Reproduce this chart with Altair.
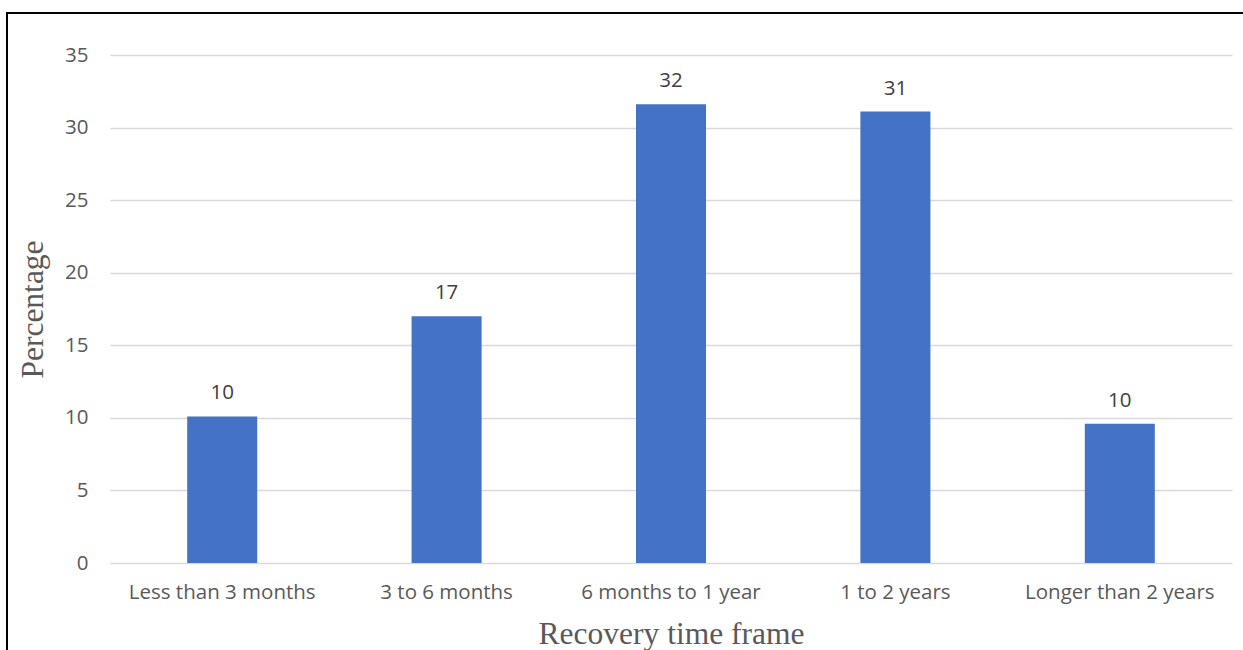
import altair as alt
import pandas as pd

categories = ["Less than 3 months", "3 to 6 months", "6 months to 1 year", "1 to 2 years", "Longer than 2 years"]
values = [10.1, 17.0, 31.6, 31.1, 9.6]
labels = ["10", "17", "32", "31", "10"]

df = pd.DataFrame({"cat": categories, "val": values, "lab": labels})

W, H = 1122, 508
PAD_L, PAD_T = 110, 55
LF = "Open Sans"
LS = 20.5

x_enc = alt.X("cat:N", sort=categories, title="Recovery time frame",
              scale=alt.Scale(paddingInner=0.688, paddingOuter=0.344),
              axis=alt.Axis(labelAngle=0, domain=False, ticks=False, grid=False, labelPadding=19,
                            labelLimit=400,
                            labelFont=LF, labelFontSize=LS, labelColor="#595959",
                            titleFont="Liberation Serif", titleFontSize=31.5, titleFontWeight="normal",
                            titleColor="#595959", titlePadding=16))
y_enc = alt.Y("val:Q", title="Percentage",
              scale=alt.Scale(domain=[0, 35], nice=False),
              axis=alt.Axis(values=[0, 5, 10, 15, 20, 25, 30, 35], domain=False, ticks=False,
                            labelPadding=22, labelFont=LF, labelFontSize=LS, labelColor="#595959",
                            gridColor="#d9d9d9", gridWidth=1.5,
                            titleFont="Liberation Serif", titleFontSize=31.5, titleFontWeight="normal",
                            titleColor="#595959", titlePadding=15))

bars = alt.Chart(df).mark_bar(color="#4472c4").encode(x=x_enc, y=y_enc)
text = alt.Chart(df).mark_text(baseline="bottom", dy=-13, font=LF, fontSize=LS, color="#404040").encode(
    x=alt.X("cat:N", sort=categories), y="val:Q", text="lab:N")

frame = alt.Chart(alt.Data(values=[{"a": 1}])).mark_rect(fillOpacity=0, stroke="black", strokeWidth=2).encode(
    x=alt.value(7 - PAD_L), x2=alt.value(1400), y=alt.value(13 - PAD_T), y2=alt.value(800))

chart = alt.layer(bars, text, frame).properties(
    width=W, height=H,
    background="white",
    autosize=alt.AutoSizeParams(type="none"),
    padding={"left": PAD_L, "top": PAD_T, "right": 1243 - PAD_L - W, "bottom": 650 - PAD_T - H},
).configure_view(strokeWidth=0, stroke="transparent")

chart.save("out.html", embed_options={"renderer": "svg", "actions": False})
